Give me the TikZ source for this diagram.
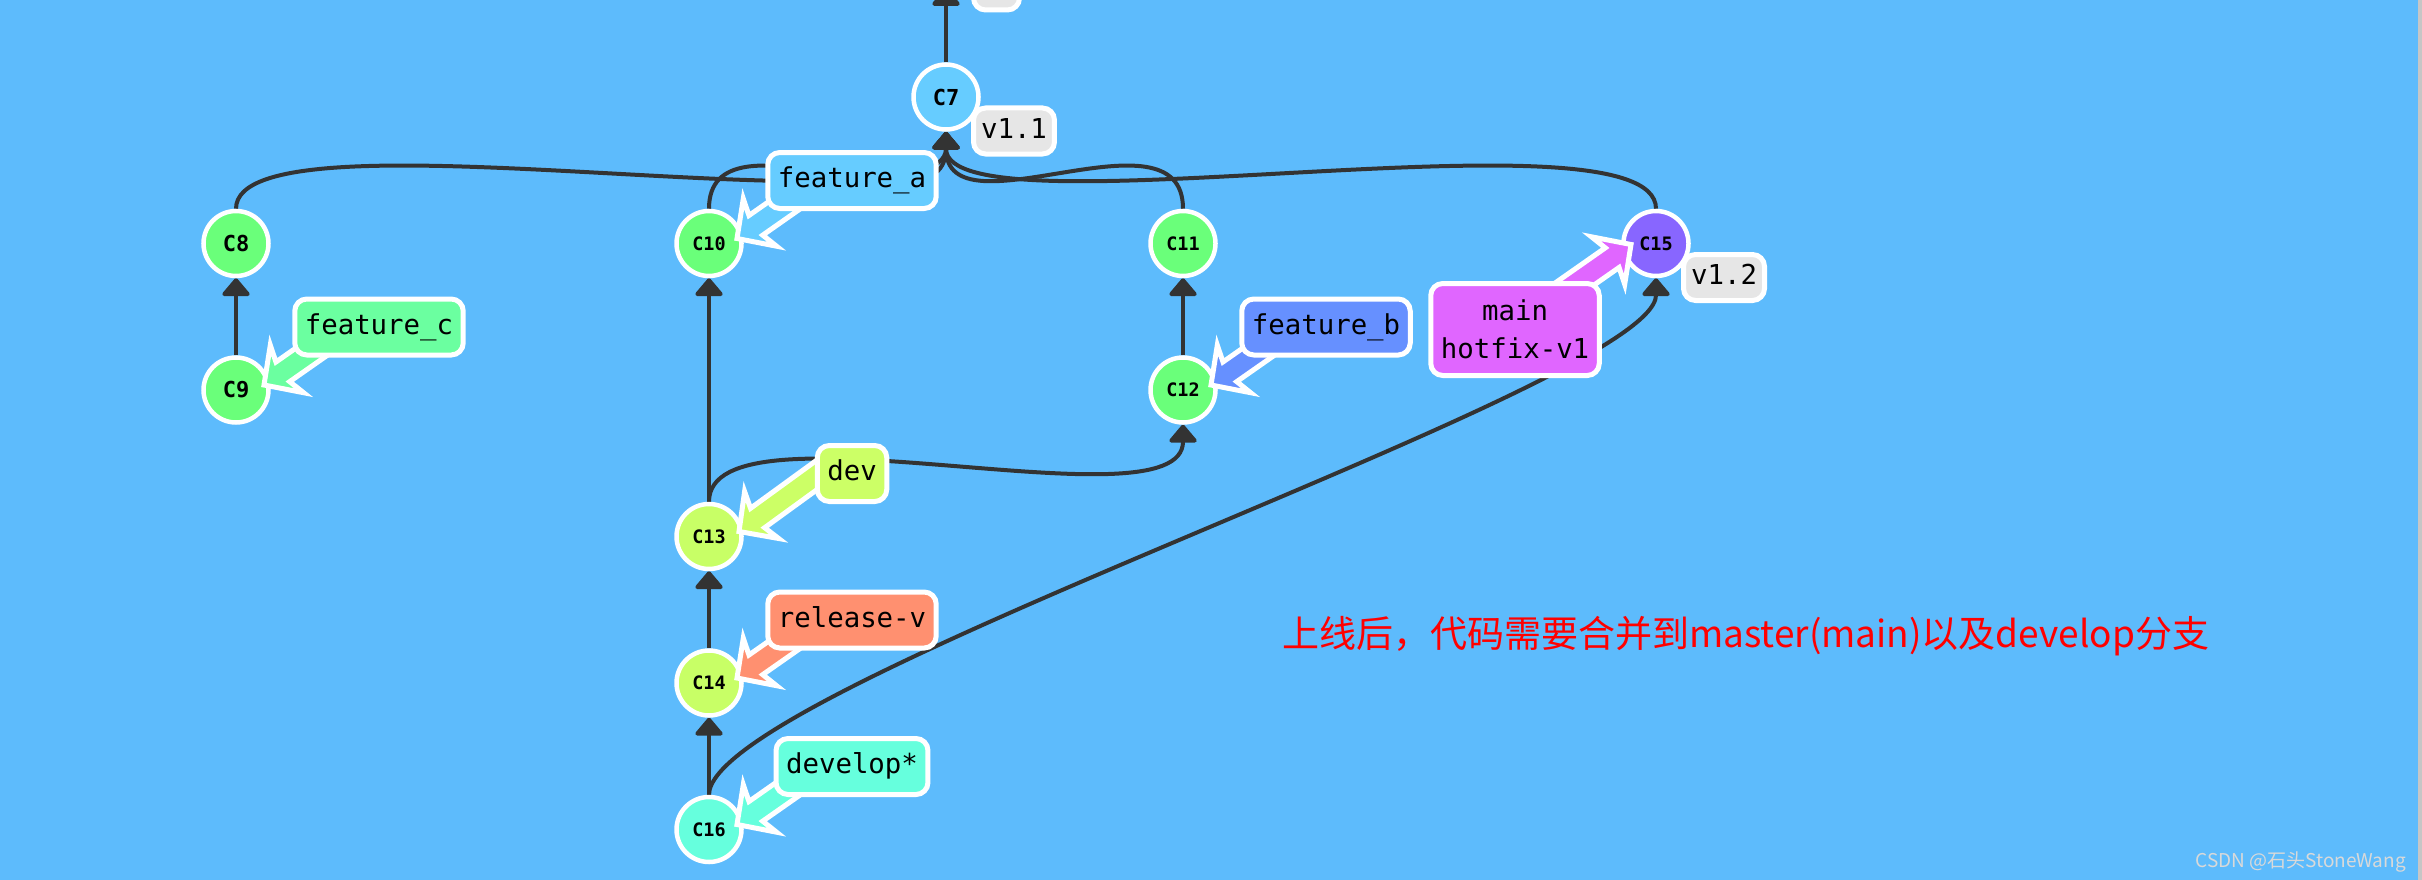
\documentclass[tikz,border=0pt]{standalone}
\usepackage{fontspec}
\usetikzlibrary{arrows.meta,calc}
\newfontfamily\gitmono{DejaVu Sans Mono}
\newfontfamily\cjk{Noto Sans CJK SC}
\newcommand{\labelfont}{\gitmono\fontsize{27.4}{38}\selectfont}
\definecolor{BgBlue}{HTML}{5DBBFC}
\definecolor{EdgeGray}{HTML}{333333}
\definecolor{CLight}{HTML}{66CCFF}
\definecolor{CGreen}{HTML}{6AFF7A}
\definecolor{CLime}{HTML}{C8FF66}
\definecolor{CAqua}{HTML}{66FFDD}
\definecolor{CPurple}{HTML}{8866FF}
\definecolor{BrMint}{HTML}{6BFFA0}
\definecolor{BrBlue}{HTML}{6690FF}
\definecolor{BrLime}{HTML}{CCFF66}
\definecolor{BrSalmon}{HTML}{FF9070}
\definecolor{BrMagenta}{HTML}{E066FF}
\definecolor{TagGray}{HTML}{E6E6E6}
\pgfdeclarelayer{back}
\pgfdeclarelayer{edges}
\pgfsetlayers{back,edges,main}
\tikzset{pics/ptr/.style 2 args={code={
  \filldraw[fill=#1, draw=white, line width=5pt] (0,0) -- (28,29) -- (23,12) -- (#2,12) -- (#2,-12) -- (23,-12) -- (28,-29) -- cycle;}}}

\begin{document}
\begin{tikzpicture}[x=1pt, y=-1pt,
  commit/.style={circle, draw=white, line width=4.5pt, minimum size=65pt, inner sep=0pt},
  edge/.style={draw=EdgeGray, line width=4pt, -{Triangle[width=31pt,length=19pt,round]}},
  branch/.style={rounded corners=12pt, draw=white, line width=5pt, inner xsep=10pt, inner ysep=14.3pt, font=\labelfont},
  oneline/.style={text height=20.8pt, text depth=6.6pt},
  tag/.style={branch, oneline, fill=TagGray, inner xsep=7.5pt, inner ysep=9.3pt, anchor=west}]
  \useasboundingbox (0,0) rectangle (2422,880);
  \begin{pgfonlayer}{back}
    \fill[BgBlue] (0,0) rectangle (2422,880);
  \end{pgfonlayer}

  % commits
  \foreach \nm/\px/\py/\col/\fs in {C7/946/97/CLight/22, C8/236/243.5/CGreen/22, C9/236/390/CGreen/22,
      C10/709/243.5/CGreen/18.5, C11/1183/243.5/CGreen/18.5, C12/1183/390/CGreen/18.5,
      C13/709/536.5/CLime/18.5, C14/709/683/CLime/18.5, C15/1656/243.5/CPurple/18.5, C16/709/829.5/CAqua/18.5}
    \node[commit, fill=\col, font=\gitmono\bfseries\fontsize{\fs}{\fs}\selectfont] (\nm) at (\px,\py) {\nm};
  \coordinate (C6) at (946,-12);

  \begin{pgfonlayer}{edges}
    \draw[edge] (C7.north) -- (C6);
    \foreach \a/\b in {C9/C8, C12/C11, C13/C10, C14/C13, C16/C14}
      \draw[edge] (\a.north) -- (\b.south);
    \foreach \a/\b in {C8/C7, C10/C7, C11/C7, C15/C7, C13/C12, C16/C15}
      \draw[edge] (\a.north) .. controls +(0,-107) and +(0,107) .. (\b.south);
  \end{pgfonlayer}

  % branch pointers
  \foreach \cm/\col/\dx/\dy/\ang/\len in {C10/CLight/28/-5/35/90, C9/BrMint/28/-5/35/90, C12/BrBlue/28/-5/35/90,
      C13/BrLime/30/-5/36/110, C14/BrSalmon/28/-5/35/90, C16/CAqua/28/-5/35/90, C15/BrMagenta/-25/1/215/90}
    \pic[rotate=\ang] at ($(\cm)+(\dx,\dy)$) {ptr={\col}{\len}};

  \node[branch, oneline, fill=CLight] (featA) at ($(C10)+(143,-63)$) {feature\_a};
  \node[branch, oneline, fill=BrMint] (featC) at ($(C9)+(143,-63)$) {feature\_c};
  \node[branch, oneline, fill=BrBlue] (featB) at ($(C12)+(143,-63)$) {feature\_b};
  \node[branch, oneline, fill=BrLime] (dev) at ($(C13)+(143,-63)$) {dev};
  \node[branch, oneline, fill=BrSalmon] (rel) at ($(C14)+(143,-63)$) {release-v};
  \node[branch, oneline, fill=CAqua] (devel) at ($(C16)+(143,-63)$) {develop*};
  \node[branch, fill=BrMagenta, align=center, minimum height=92pt] (mainbr) at ($(C15)+(-141,86)$) {main\\hotfix-v1};

  % tags
  \node[tag, minimum width=46pt] (v1) at ($(C6)+(25,-1)$) {};
  \node[tag] (v11) at ($(C7)+(25,34)$) {v1.1};
  \node[tag] (v12) at ($(C15)+(25,34)$) {v1.2};

  \node[font=\cjk\fontsize{37}{40}\selectfont, text=red, anchor=base west, inner sep=0pt] (note) at (1282,647)
    {上线后，代码需要合并到master(main)以及develop分支};
  \node[font=\cjk\fontsize{19}{20}\selectfont, text=white!85!black, anchor=base east, inner sep=0pt] (mark) at (2406,867)
    {CSDN @石头StoneWang};
  \fill[gray!45] (2418,0) rectangle (2422,880);
\end{tikzpicture}
\end{document}
